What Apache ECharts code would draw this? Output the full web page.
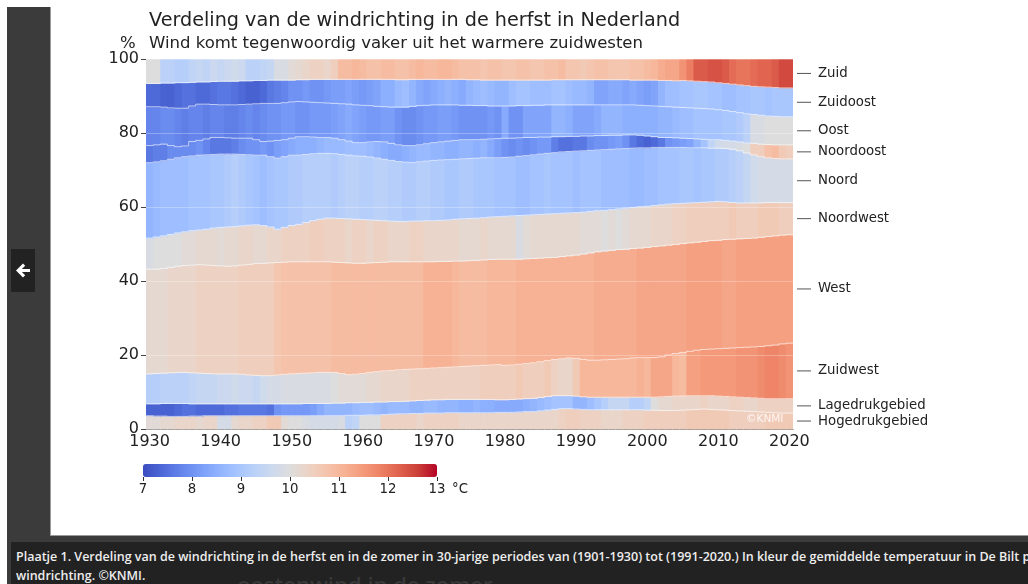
<!DOCTYPE html>
<html>
<head>
<meta charset="utf-8">
<script src="https://cdn.jsdelivr.net/npm/echarts@6.0.0/dist/echarts.min.js"></script>
<style>
  html, body { margin: 0; padding: 0; background: #fff; width: 1028px; height: 584px; overflow: hidden; }
  #frame { position: absolute; left: 7px; top: 7px; width: 1021px; height: 577px; background: #3b3b3b; }
  #panel { position: absolute; left: 50px; top: 7px; width: 978px; height: 529px; background: #fff; border-left: 1px solid #9a9a9a; border-bottom: 1px solid #9a9a9a; box-sizing: border-box; }
  #chart { position: absolute; left: 50px; top: 7px; width: 978px; height: 528px; }
  #back { position: absolute; left: 11px; top: 249px; width: 24px; height: 43px; background: #222; }
  #capbar { position: absolute; left: 11px; top: 542px; width: 1017px; height: 42px; background: #222; overflow: hidden; }
  #ghost { position: absolute; left: 226px; top: 27px; font: 600 22px "Open Sans", sans-serif; color: #383838; white-space: nowrap; }
  .cap { position: absolute; left: 5px; font: 600 12.5px "Open Sans", sans-serif; color: #eeeeee; white-space: nowrap; line-height: 18px; }
</style>
</head>
<body>
<div id="frame"></div>
<div id="panel"></div>
<div id="chart"></div>
<div id="back"><svg width="24" height="43" viewBox="0 0 24 43"><path d="M5 21.5 L12 14.5 L14.2 16.7 L10.9 20 L19 20 L19 23 L10.9 23 L14.2 26.3 L12 28.5 Z" fill="#fff"/></svg></div>
<div id="capbar">
  <div id="ghost">oostenwind in de zomer</div>
  <div class="cap" style="top:6px">Plaatje 1. Verdeling van de windrichting in de herfst en in de zomer in 30-jarige periodes van (1901-1930) tot (1991-2020.) In kleur de gemiddelde temperatuur in De Bilt per windrichting.</div>
  <div class="cap" style="top:25px">windrichting. ©KNMI.</div>
</div>
<script>
// Years (x categories)
const years = Array.from({length: 91}, (_, i) => String(1930 + i));

// Band names from bottom to top
const bandNames = ['Hogedrukgebied','Lagedrukgebied','Zuidwest','West','Noordwest','Noord','Noordoost','Oost','Zuidoost','Zuid'];

// Upper edge of each band (cumulative %), 1930..2020 (Zuid always reaches 100)
const topHogedruk = [3.6,3.5,3.5,3.4,3.4, 3.4,3.5,3.5,3.6,3.6, 3.6,3.6,3.6,3.6,3.6, 3.6,3.6,3.6,3.6,3.6, 3.6,3.6,3.6,3.6,3.6, 3.6,3.6,3.6,3.7,3.7, 3.7,3.8,3.8,3.9,4.0, 4.1,4.1,4.2,4.2,4.3, 4.3,4.3,4.4,4.4,4.4, 4.4,4.4,4.4,4.4,4.5, 4.5,4.5,4.6,4.7,4.7, 4.9,5.1,5.3,5.5,5.5, 5.4,5.3,5.2,5.2,5.2, 5.2,5.2,5.2,5.2,5.2, 5.1,5.1,5.0,5.0,5.0, 5.1,5.2,5.3,5.4,5.3, 5.2,5.1,5.0,4.9,4.8, 4.7,4.6,4.5,4.4,4.3, 4.3];
const topLagedruk = [6.8,6.8,6.9,6.9,6.9, 6.9,6.8,6.8,6.8,6.8, 6.8,6.8,6.8,6.8,6.8, 6.8,6.8,6.8,6.8,6.8, 6.8,6.8,6.9,6.9,6.9, 6.9,7.0,7.0,7.1,7.1, 7.2,7.2,7.3,7.3,7.4, 7.4,7.5,7.6,7.7,7.8, 7.9,7.9,8.0,8.0,8.0, 8.0,8.0,8.0,8.0,7.9, 7.9,8.0,8.1,8.2,8.3, 8.5,8.8,9.0,9.0,9.0, 8.9,8.7,8.6,8.6,8.6, 8.6,8.6,8.6,8.6,8.6, 8.6,8.6,8.7,8.8,8.9, 8.9,9.0,9.0,9.0,9.0, 8.9,8.8,8.7,8.6,8.5, 8.4,8.3,8.2,8.2,8.2, 8.2];
const topZuidwest = [14.9,15.0,15.1,15.2,15.3, 15.3,15.2,15.1,15.0,14.9, 14.9,14.9,14.9,14.8,14.6, 14.5,14.4,14.4,14.6,14.8, 14.9,15.0,15.1,15.2,15.3, 15.3,15.3,15.0,14.7,14.8, 15.0,15.3,15.5,15.7,15.8, 16.0,16.1,16.2,16.3,16.4, 16.5,16.6,16.7,16.8,16.9, 17.0,17.1,17.2,17.3,17.4, 17.2,17.3,17.5,17.7,17.9, 18.2,18.5,18.8,19.0,19.2, 19.1,18.8,18.6,18.6,18.7, 18.8,18.9,19.0,19.2,19.3, 19.3,19.3,19.5,20.0,20.4, 20.7,21.0,21.3,21.5,21.6, 21.7,21.8,21.9,22.0,22.1, 22.2,22.3,22.5,22.7,23.0, 23.2];
const topWest = [43.2,43.2,43.4,43.7,44.0, 44.2,44.3,44.4,44.3,44.2, 44.1,44.0,44.1,44.3,44.5, 44.7,44.8,44.9,45.0,45.1, 45.2,45.2,45.2,45.2,45.2, 45.2,45.1,45.0,44.9,44.8, 44.8,44.9,45.0,45.1,45.2, 45.2,45.2,45.2,45.2,45.2, 45.2,45.3,45.3,45.4,45.4, 45.5,45.6,45.7,45.8,45.9, 45.9,45.9,45.9,46.0,46.1, 46.2,46.3,46.4,46.6,46.8, 47.0,47.3,47.6,47.9,48.1, 48.3,48.5,48.6,48.8,48.9, 49.1,49.3,49.5,49.7,49.9, 50.1,50.3,50.5,50.7,50.9, 51.0,51.2,51.3,51.4,51.5, 51.6,51.8,52.0,52.2,52.4, 52.5];
const topNoordwest = [51.6,51.9,52.2,52.6,53.0, 53.3,53.6,53.8,54.0,54.3, 54.5,54.6,54.7,54.9,55.1, 55.2,55.0,54.6,54.0,54.5, 55.0,55.3,55.8,56.3,56.7, 57.0,57.0,56.9,56.8,56.7, 56.6,56.5,56.4,56.3,56.2, 56.1,56.1,56.2,56.2,56.3, 56.3,56.4,56.5,56.7,56.8, 56.9,57.0,57.1,57.3,57.4, 57.5,57.6,57.7,57.8,57.9, 58.0,58.1,58.2,58.3,58.4, 58.5,58.6,58.8,59.0,59.1, 59.3,59.5,59.7,59.9,60.1, 60.2,60.4,60.6,60.8,60.9, 61.0,61.1,61.2,61.3,61.4, 61.5,61.4,61.2,61.1,61.1, 61.1,61.1,61.2,61.2,61.2, 61.2];
const topNoord = [72.0,72.2,72.5,72.9,73.3, 73.6,73.8,74.0,74.1,74.2, 74.3,74.3,74.3,74.2,74.1, 74.0,74.0,73.6,73.2,73.6, 74.0,74.0,74.2,74.4,74.5, 74.5,74.4,74.2,74.0,73.8, 73.7,73.5,73.2,72.9,72.6, 72.3,72.1,72.0,72.2,72.4, 72.6,72.7,72.8,72.9,73.0, 73.1,73.2,73.3,73.3,73.3, 73.4,73.5,73.7,73.9,74.1, 74.3,74.5,74.7,74.9,75.0, 75.1,75.2,75.3,75.4,75.5, 75.6,75.7,75.8,75.9,76.0, 76.0,76.1,76.1,76.1,76.1, 76.1,76.0,76.0,76.0,75.9, 75.9,75.8,75.6,75.2,74.6, 74.1,73.6,73.3,73.1,73.0, 73.0];
const topNoordoost = [76.6,76.8,77.0,76.6,76.3, 76.5,77.7,78.0,78.4,78.8, 78.8,78.7,78.6,78.6,78.6, 78.2,77.7,77.8,78.0,78.2, 78.6,79.0,79.0,78.9,78.8, 78.8,78.6,78.2,77.8,77.4, 77.4,77.6,77.7,77.6,77.2, 76.8,76.6,76.6,76.8,77.1, 77.4,77.6,77.8,78.0,78.2, 78.2,78.2,78.3,78.4,78.5, 78.6,78.6,78.7,78.8,78.8, 78.9,78.9,79.0,79.0,79.1, 79.1,79.2,79.2,79.3,79.3, 79.4,79.4,79.5,79.5,79.4, 79.2,79.0,78.8,78.8,78.7, 78.6,78.5,78.4,78.3,78.2, 78.2,78.0,77.8,77.6,77.3, 77.2,77.0,76.9,76.8,76.8, 76.8];
const topOost = [87.1,87.1,87.0,86.8,86.7, 86.7,87.3,87.8,87.8,87.7, 87.6,87.6,87.6,87.7,87.8, 87.9,88.0,88.0,88.0,88.2, 88.4,88.5,88.4,88.3,88.2, 88.1,88.0,87.9,87.8,87.6, 87.5,87.4,87.2,87.1,87.0, 87.0,87.0,87.2,87.4,87.5, 87.6,87.6,87.6,87.6,87.5, 87.5,87.4,87.4,87.3,87.3, 87.3,87.3,87.4,87.4,87.5, 87.5,87.6,87.6,87.6,87.6, 87.6,87.6,87.6,87.6,87.6, 87.6,87.6,87.6,87.6,87.5, 87.4,87.3,87.2,87.1,87.0, 86.9,86.8,86.7,86.6,86.5, 86.3,86.1,85.8,85.5,85.2, 85.0,84.8,84.6,84.5,84.4, 84.4];
const topZuidoost = [93.4,93.4,93.5,93.5,93.6, 93.6,93.7,93.8,93.8,93.9, 94.0,94.0,94.0,94.1,94.1, 94.2,94.2,94.3,94.3,94.3, 94.3,94.4,94.4,94.5,94.5, 94.5,94.5,94.5,94.5,94.5, 94.5,94.5,94.5,94.5,94.5, 94.4,94.4,94.5,94.5,94.5, 94.5,94.5,94.5,94.5,94.5, 94.4,94.4,94.3,94.3,94.3, 94.3,94.3,94.3,94.3,94.3, 94.3,94.3,94.4,94.4,94.4, 94.4,94.4,94.4,94.4,94.4, 94.4,94.4,94.4,94.3,94.3, 94.3,94.3,94.2,94.2,94.1, 94.2,94.1,94.0,93.9,93.8, 93.6,93.4,93.2,93.0,92.8, 92.6,92.5,92.4,92.3,92.2, 92.2];

// Mean temperature (°C) in De Bilt per wind direction, 1930..2020
const tempHogedruk = [10.1,10.1,10.2,10.2,10.3, 10.3,10.3,10.2,10.3,10.3, 9.8,9.8,10.2,10.3,10.3, 10.4,10.4,10.6,10.6,10.1, 10.0,10.0,9.9,9.8,9.8, 9.8,9.8,9.9,9.3,9.4, 10.0,10.0,10.0,10.4,10.4, 10.4,10.4,10.4,10.3,10.4, 10.4,10.4,10.4,10.4,10.3, 10.3,10.3,10.3,10.3,10.3, 10.3,10.3,10.3,10.3,10.3, 10.3,10.3,10.3,10.4,10.5, 10.5,10.4,10.4,10.4,10.3, 10.3,10.3,10.4,10.4,10.4, 10.5,10.5,10.5,10.5,10.5, 10.5,10.6,10.6,10.6,10.6, 10.6,10.6,10.5,10.5,10.5, 10.5,10.5,10.6,10.6,10.6, 10.6];
const tempLagedruk = [7.3,7.3,7.3,7.3,7.4, 7.5,7.5,7.4,7.4,7.4, 7.4,7.5,7.5,7.6,7.6, 7.6,7.6,7.5,8.0,8.1, 8.1,8.1,8.1,8.2,8.4, 8.6,8.6,8.6,8.6,8.7, 8.8,8.8,8.7,8.6,8.7, 8.7,8.7,8.6,8.6,8.7, 8.7,8.6,8.6,8.6,8.5, 8.5,8.6,8.5,8.5,8.4, 8.4,8.4,8.4,8.5,8.6, 8.7,8.8,8.9,8.9,8.9, 8.6,8.6,8.8,9.0,9.2, 9.5,9.5,9.5,9.2,9.2, 9.4,10.0,10.2,10.2,10.3, 10.3,10.3,10.3,10.4,10.3, 10.3,10.3,10.4,10.4,10.3, 10.3,10.4,10.4,10.4,10.4, 10.4];
const tempZuidwest = [9.2,9.2,9.3,9.3,9.3, 9.3,9.4,9.5,9.5,9.5, 9.6,9.6,9.7,9.6,9.6, 9.5,9.7,9.8,9.8,9.9, 9.9,9.9,9.9,9.9,9.9, 9.9,10.0,10.1,10.1,10.1, 10.1,10.2,10.2,10.3,10.3, 10.3,10.3,10.4,10.4,10.4, 10.4,10.4,10.4,10.4,10.4, 10.4,10.4,10.5,10.5,10.5, 10.5,10.5,10.6,10.5,10.5, 10.5,10.6,10.4,10.3,10.3, 10.6,11.0,11.0,11.0,11.0, 11.0,11.0,11.0,11.0,11.1, 11.0,11.3,11.3,11.3,11.0, 10.9,11.4,11.4,11.5,11.5, 11.5,11.5,11.5,11.6,11.6, 11.6,11.7,11.8,11.8,11.7, 11.6];
const tempWest = [10.2,10.2,10.2,10.3,10.3, 10.3,10.3,10.4,10.4,10.4, 10.4,10.4,10.4,10.5,10.5, 10.5,10.5,10.5,10.7,10.8, 10.8,10.8,10.8,10.8,10.8, 10.8,10.9,10.9,10.9,10.9, 10.9,10.9,10.9,10.9,10.9, 10.9,10.9,10.9,10.9,11.1, 11.1,11.1,11.1,11.0,10.9, 10.9,10.9,10.9,11.0,11.0, 11.0,11.0,11.1,11.1,11.1, 11.1,11.1,11.1,11.1,11.1, 11.1,11.1,11.1,11.2,11.2, 11.2,11.2,11.2,11.2,11.3, 11.3,11.3,11.3,11.3,11.3, 11.3,11.4,11.4,11.4,11.4, 11.4,11.3,11.3,11.4,11.4, 11.4,11.4,11.4,11.4,11.4, 11.4];
const tempNoordwest = [9.9,10.0,10.0,10.0,10.0, 10.1,10.1,10.2,10.2,10.2, 10.1,10.2,10.2,10.3,10.3, 10.2,10.2,10.3,10.3,10.4, 10.4,10.4,10.4,10.5,10.5, 10.4,10.4,10.4,10.3,10.4, 10.4,10.3,10.4,10.4,10.3, 10.3,10.3,10.4,10.4,10.3, 10.3,10.3,10.3,10.3,10.2, 10.2,10.2,10.3,10.2,10.2, 10.2,10.2,9.9,10.1,10.2, 10.2,10.2,10.2,10.2,10.2, 10.2,10.1,10.1,10.1,10.0, 10.1,10.0,10.1,10.2,10.2, 10.2,10.3,10.3,10.3,10.4, 10.4,10.5,10.5,10.5,10.5, 10.5,10.5,10.6,10.5,10.5, 10.5,10.6,10.6,10.6,10.5, 10.5];
const tempNoord = [8.6,8.7,8.8,8.8,8.8, 8.8,8.9,8.9,8.9,9.0, 9.0,9.1,9.2,9.1,9.0, 8.9,8.8,8.9,9.0,9.0, 9.1,9.1,9.2,9.2,9.2, 9.2,9.1,9.2,9.3,9.3, 9.2,9.2,9.3,9.3,9.2, 9.2,9.1,9.1,9.2,9.2, 9.1,9.1,9.0,9.0,9.1, 9.1,9.0,9.0,9.0,8.9, 8.9,8.9,8.8,8.8,8.9, 8.9,9.0,8.9,8.9,8.9, 8.8,8.9,8.9,8.9,8.8, 8.8,8.8,8.8,8.7,8.7, 8.8,8.8,8.9,8.9,8.9, 9.0,9.0,8.9,9.0,9.0, 9.1,9.1,9.2,9.3,9.5, 9.7,9.8,9.8,9.8,9.8, 9.8];
const tempNoordoost = [7.6,7.7,7.7,7.9,7.9, 7.9,7.9,8.0,7.8,7.6, 7.6,7.6,7.7,7.9,8.0, 8.0,8.1,8.0,8.2,8.3, 8.4,8.5,8.5,8.5,8.6, 8.7,8.7,8.7,8.8,8.8, 8.8,8.7,8.6,8.5,8.4, 8.4,8.5,8.6,8.7,8.7, 8.6,8.6,8.5,8.5,8.6, 8.6,8.5,8.6,8.4,8.2, 8.0,7.9,8.0,7.9,8.0, 8.1,8.1,7.7,7.5,7.5, 7.6,7.6,7.9,8.0,8.0, 8.1,8.2,8.0,7.6,7.4, 7.3,7.4,7.6,8.0,8.1, 8.2,8.3,8.6,8.9,9.4, 9.7,9.8,9.8,9.9,10.0, 10.5,10.5,10.8,10.9,10.6, 10.5];
const tempOost = [7.8,7.8,7.9,7.9,7.8, 7.7,7.8,7.8,7.7,7.8, 7.8,7.7,7.7,7.8,7.9, 7.8,7.9,8.0,8.0,8.1, 8.1,8.0,8.0,8.1,8.1, 8.1,8.2,8.3,8.4,8.3, 8.2,8.1,8.1,8.2,8.2, 8.0,7.9,7.9,8.0,8.1, 8.1,8.2,8.2,8.1,8.0, 8.0,8.0,8.0,8.1,8.0, 8.4,8.0,8.0,8.3,8.3, 8.3,8.3,8.6,8.6,8.5, 8.3,8.3,8.3,8.4,8.6, 8.6,8.6,8.5,8.5,8.5, 8.5,8.5,8.6,8.6,8.7, 8.8,8.8,8.9,8.9,8.9, 8.9,9.0,9.0,9.1,9.3, 9.9,9.9,10.0,10.0,10.0, 10.0];
const tempZuidoost = [7.4,7.4,7.3,7.3,7.4, 7.5,7.5,7.4,7.4,7.5, 7.6,7.6,7.5,7.4,7.3, 7.3,7.4,7.6,7.7,7.8, 8.0,8.0,8.1,8.0,8.0, 8.1,8.2,8.2,8.3,8.2, 8.1,8.2,8.3,8.5,8.5, 8.7,8.8,8.6,8.4,8.3, 8.4,8.5,8.6,8.5,8.4, 8.6,8.7,8.8,8.7,8.6, 8.6,8.8,8.9,8.9,8.8, 8.8,8.8,8.9,8.9,8.8, 8.7,8.7,8.6,8.3,8.3, 8.4,8.4,8.3,8.4,8.3, 8.2,8.3,8.6,8.8,8.8, 8.9,8.9,9.0,9.0,8.9, 8.9,8.8,8.8,8.9,8.9, 9.0,9.0,8.9,9.0,9.0, 9.0];
const tempZuid = [10.0,10.0,9.3,9.3,9.2, 9.2,9.4,9.5,9.4,9.6, 9.5,9.6,9.7,9.6,9.3, 9.3,9.4,9.5,9.9,9.9, 10.1,10.2,10.3,10.4,10.4, 10.3,10.5,10.9,10.9,11.0, 10.9,10.8,10.8,10.9,10.9, 10.8,10.8,10.9,11.0,10.9, 10.9,11.0,11.0,10.9,10.8, 10.8,10.8,10.7,10.8,10.8, 10.7,10.7,10.8,10.8,10.7, 10.7,10.8,10.8,10.9,10.7, 10.7,10.6,10.7,10.8,10.8, 10.7,10.7,10.7,10.8,10.8, 10.9,11.0,11.2,11.3,11.3, 11.6,11.9,12.3,12.3,12.4, 12.4,12.3,12.1,12.0,12.0, 12.1,12.2,12.2,12.3,12.5, 12.5];

// Colour-bar tick values
const colorTicks = [7, 8, 9, 10, 11, 12, 13];

const tops = [topHogedruk, topLagedruk, topZuidwest, topWest, topNoordwest, topNoord, topNoordoost, topOost, topZuidoost];
const temps = [tempHogedruk, tempLagedruk, tempZuidwest, tempWest, tempNoordwest, tempNoord, tempNoordoost, tempOost, tempZuidoost, tempZuid];

const FONT = '"DejaVu Sans", sans-serif';
const last = years.length - 1;

function bandSeries(k) {
  const data = years.map((_, i) => [
    i,
    k === 0 ? 0 : tops[k - 1][i],
    k === tops.length ? 100 : tops[k][i],
    temps[k][i]
  ]);
  return {
    type: 'custom',
    name: bandNames[k],
    xAxisIndex: 0, yAxisIndex: 0,
    encode: { x: 0, y: [1, 2] },
    z: 2,
    silent: true,
    data: data,
    renderItem: function (params, api) {
      const i = api.value(0), lo = api.value(1), hi = api.value(2);
      const a = api.coord([i, hi]);
      const b = api.coord([i, lo]);
      const w = api.size([1, 0])[0];
      const x = a[0] - w / 2;
      const children = [{
        type: 'rect',
        shape: { x: x, y: a[1], width: w + (i === last ? 0 : 0.8), height: b[1] - a[1] + 0.4 },
        style: { fill: api.visual('color') }
      }];
      if (i === last) {
        const mid = api.coord([i, (lo + hi) / 2]);
        const right = a[0] + w / 2;
        children.push({
          type: 'line',
          shape: { x1: right + 4, y1: mid[1], x2: right + 18, y2: mid[1] },
          style: { stroke: '#555', lineWidth: 1 }
        });
        children.push({
          type: 'text',
          style: { x: right + 25, y: mid[1], text: bandNames[k], fill: '#222', font: '13.3px ' + FONT, align: 'left', verticalAlign: 'middle' }
        });
      }
      return { type: 'group', children: children };
    }
  };
}

const series = [];
for (let k = 0; k < bandNames.length; k++) series.push(bandSeries(k));

// thin light boundary lines between the bands
series.push({
  type: 'custom',
  name: 'grenzen',
  xAxisIndex: 0, yAxisIndex: 0,
  encode: { x: 0, y: 1 },
  z: 3,
  silent: true,
  data: years.map((_, i) => [i, 0]),
  renderItem: function (params, api) {
    const i = api.value(0);
    const w = api.size([1, 0])[0];
    const children = [];
    tops.forEach(function (arr) {
      const p = api.coord([i, arr[i]]);
      const x0 = p[0] - w / 2;
      children.push({ type: 'line', shape: { x1: x0, y1: p[1], x2: x0 + w, y2: p[1] },
        style: { stroke: 'rgba(255,255,255,0.6)', lineWidth: 1 } });
      if (i > 0) {
        const q = api.coord([i - 1, arr[i - 1]]);
        children.push({ type: 'line', shape: { x1: x0, y1: q[1], x2: x0, y2: p[1] },
          style: { stroke: 'rgba(255,255,255,0.6)', lineWidth: 1 } });
      }
    });
    return { type: 'group', children: children };
  }
});

const chart = echarts.init(document.getElementById('chart'), null, { renderer: 'canvas' });
chart.setOption({
  animation: false,
  backgroundColor: 'transparent',
  textStyle: { fontFamily: FONT },
  title: [
    { text: 'Verdeling van de windrichting in de herfst in Nederland', left: 99, top: 5, padding: 0,
      textStyle: { fontFamily: FONT, fontSize: 19.2, fontWeight: 'normal', color: '#222' } },
    { text: 'Wind komt tegenwoordig vaker uit het warmere zuidwesten', left: 99, top: 28, padding: 0,
      textStyle: { fontFamily: FONT, fontSize: 16.5, fontWeight: 'normal', color: '#222' } },
    { text: '%', left: 70, top: 28, padding: 0,
      textStyle: { fontFamily: FONT, fontSize: 16.5, fontWeight: 'normal', color: '#222' } }
  ],
  grid: [
    { left: 96, top: 52, width: 647, height: 370 },
    { left: 93, top: 457, width: 294, height: 13 }
  ],
  xAxis: [
    { type: 'category', gridIndex: 0, data: years, boundaryGap: true,
      axisLine: { lineStyle: { color: '#444', width: 1 } },
      axisTick: { alignWithLabel: true, interval: function (idx) { return idx % 10 === 0; }, length: 5, lineStyle: { color: '#444' } },
      axisLabel: { interval: function (idx) { return idx % 10 === 0; }, fontSize: 16, color: '#222', margin: 5, fontFamily: FONT },
      splitLine: { show: false } },
    { type: 'value', gridIndex: 1, min: colorTicks[0], max: colorTicks[colorTicks.length - 1], interval: 1,
      axisLine: { show: false },
      axisTick: { show: true, length: 4, lineStyle: { color: '#333' } },
      axisLabel: { fontSize: 13.3, color: '#222', margin: 6, fontFamily: FONT },
      splitLine: { show: false },
      name: '°C', nameLocation: 'end', nameGap: 15,
      nameTextStyle: { fontSize: 13.3, color: '#222', fontFamily: FONT, verticalAlign: 'top', padding: [6, 0, 0, 0] } }
  ],
  yAxis: [
    { type: 'value', gridIndex: 0, min: 0, max: 100, interval: 20, z: 5,
      axisLine: { show: false },
      axisTick: { show: true, length: 5, lineStyle: { color: '#444' } },
      axisLabel: { fontSize: 16, color: '#222', margin: 7, fontFamily: FONT },
      splitLine: { show: true, lineStyle: { color: 'rgba(255,255,255,0.28)', width: 1 } } },
    { type: 'value', gridIndex: 1, show: false, min: 0, max: 1 }
  ],
  visualMap: {
    type: 'continuous',
    min: 7, max: 13,
    dimension: 3,
    seriesIndex: [0,1,2,3,4,5,6,7,8,9],
    orient: 'horizontal',
    left: 93, top: 457,
    itemWidth: 13, itemHeight: 294,
    padding: 0,
    calculable: false,
    hoverLink: false,
    text: null,
    inRange: { color: ['#3b4cc0','#4d68d7','#6282ea','#779af7','#8db0fe','#a3c2ff','#b8d0f9','#ccd9ee','#dddddd','#ecd3c5','#f5c4ac','#f7b193','#f49a7b','#ec7f63','#de604d','#cb3e38','#b40426'] }
  },
  graphic: [
    { type: 'text', left: 696, top: 407, z: 100, silent: true,
      style: { text: '©KNMI', fill: 'rgba(255,255,255,0.85)', font: '10.5px ' + FONT } }
  ],
  series: series
});
</script>
</body>
</html>
